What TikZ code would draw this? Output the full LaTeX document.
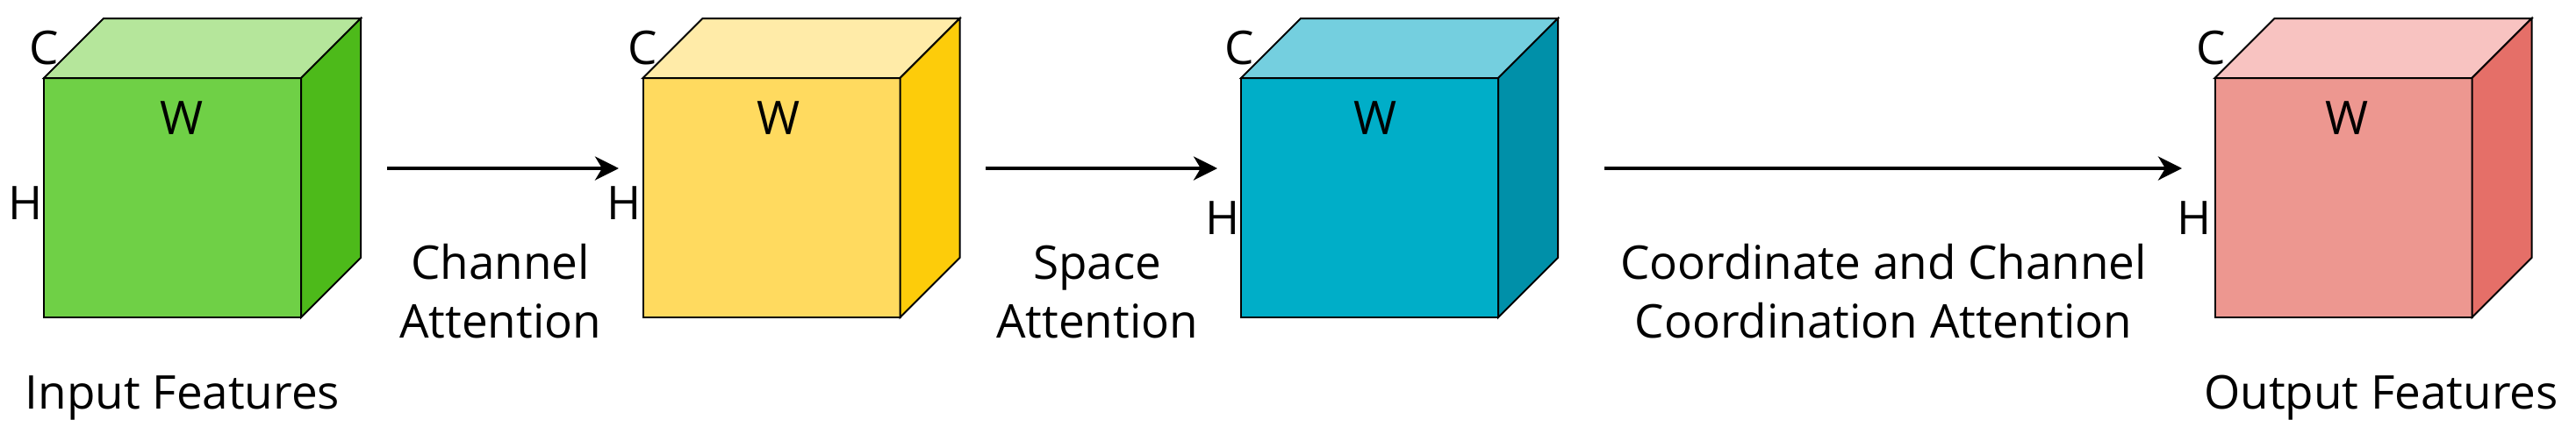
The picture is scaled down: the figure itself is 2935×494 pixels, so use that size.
\documentclass[tikz,border=0pt]{standalone}
\usepackage{fontspec}
\setmainfont{Open Sans}
\usetikzlibrary{arrows.meta}
\definecolor{gF}{HTML}{6FD046}\definecolor{gT}{HTML}{B5E69B}\definecolor{gS}{HTML}{4DBA1A}
\definecolor{yF}{HTML}{FFDA5F}\definecolor{yT}{HTML}{FFEBA8}\definecolor{yS}{HTML}{FDCC0A}
\definecolor{cF}{HTML}{00AEC8}\definecolor{cT}{HTML}{74CFDF}\definecolor{cS}{HTML}{0090A9}
\definecolor{rF}{HTML}{ED9790}\definecolor{rT}{HTML}{F8C3C1}\definecolor{rS}{HTML}{E56F68}
\begin{document}
\begin{tikzpicture}[x=0.25pt,y=-0.25pt,
  front/.style={draw=black,line width=0.5pt,inner sep=0pt,outer sep=0pt,
    minimum width=73.25pt,minimum height=68.25pt},
  facepath/.style={draw=black,line width=0.5pt,line join=miter},
  lbl/.style={font=\fontsize{13.25pt}{16.75pt}\selectfont,inner sep=0pt,anchor=base,align=center},
  arr/.style={line width=1pt,-{Stealth[length=6.75pt,width=6.75pt,inset=2pt]}}]
\useasboundingbox (0,0) rectangle (2935,494);
% cubes: front faces
\node[front,fill=gF] (c1) at (196.5,225.5) {};
\node[front,fill=yF] (c2) at (879,225.5) {};
\node[front,fill=cF] (c3) at (1560.5,225.5) {};
\node[front,fill=rF] (c4) at (2670,225.5) {};
% top and side faces
\foreach \c/\t/\s in {c1/gT/gS,c2/yT/yS,c3/cT/cS,c4/rT/rS}{
  \draw[facepath,fill=\t] (\c.north west) -- ++(68,-68) -- ++(293,0) -- (\c.north east) -- cycle;
  \draw[facepath,fill=\s] (\c.north east) -- ++(68,-68) -- ++(0,273) -- (\c.south east) -- cycle;
}
% axis letters
\node[lbl] (C1) at (50,73) {C};
\node[lbl] (C2) at (732,73) {C};
\node[lbl] (C3) at (1412,73) {C};
\node[lbl] (C4) at (2519,73) {C};
\node[lbl] (W1) at (207,153) {W};
\node[lbl] (W2) at (887,153) {W};
\node[lbl] (W3) at (1567,153) {W};
\node[lbl] (W4) at (2674,153) {W};
\node[lbl,anchor=base east] (H1) at (49,250) {H};
\node[lbl,anchor=base east] (H2) at (731,250) {H};
\node[lbl,anchor=base east] (H3) at (1413,267) {H};
\node[lbl,anchor=base east] (H4) at (2520,267) {H};
% arrows
\coordinate (a1s) at (441,192); \coordinate (a1e) at (705,192);
\coordinate (a2s) at (1123,192); \coordinate (a2e) at (1387,192);
\coordinate (a3s) at (1828,192); \coordinate (a3e) at (2486,192);
\draw[arr] (a1s) -- (a1e);
\draw[arr] (a2s) -- (a2e);
\draw[arr] (a3s) -- (a3e);
% labels (base = baseline of the last line)
\node[lbl] (l1) at (570,385) {Channel\\Attention};
\node[lbl] (l2) at (1250,385) {Space\\Attention};
\node[lbl] (l3) at (2146,385) {Coordinate and Channel\\Coordination Attention};
\node[lbl] (in) at (208,466) {Input Features};
\node[lbl] (out) at (2713,466) {Output Features};
\end{tikzpicture}
\end{document}
